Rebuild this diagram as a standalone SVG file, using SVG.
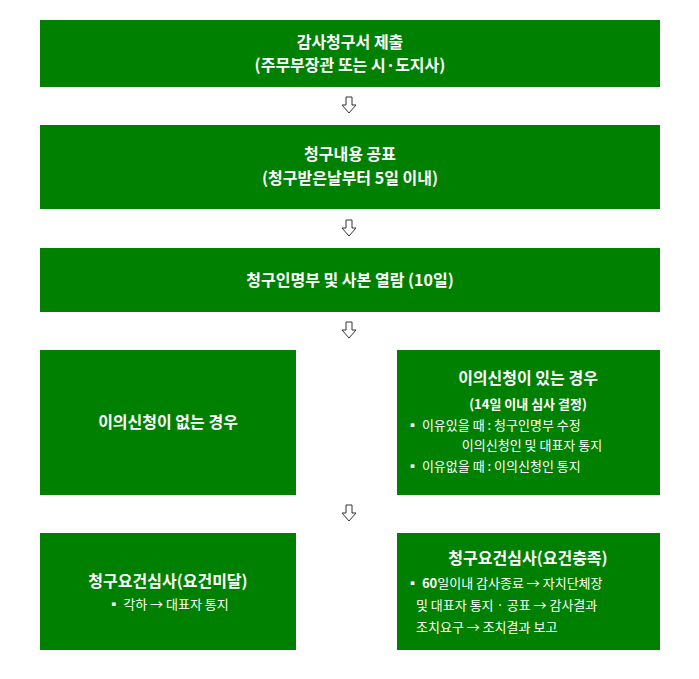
<svg xmlns="http://www.w3.org/2000/svg" width="699" height="679" viewBox="0 0 699 679">
<style>
.b{fill:#008000}
text{fill:#fff;font-family:"Noto Sans CJK KR","Noto Sans",sans-serif;text-anchor:middle}
.t{font-size:16px;font-weight:bold}
.s{font-size:13px}
.sb{font-size:13px;font-weight:bold}
.l{text-anchor:start}
.a{fill:#fff;stroke:#333;stroke-width:1}
</style>
<defs><path id="ar" class="a" d="M-3,0 H3 V8 H7 L0,16 L-7,8 H-3 Z"/></defs>
<rect width="699" height="679" fill="#fff"/>
<g id="n1"><rect class="b" x="40" y="20" width="620" height="67"/>
<text class="t" x="350" y="48">감사청구서 제출</text><text class="t" x="350" y="71">(주무부장관 또는 시·도지사)</text></g>
<g id="n2"><rect class="b" x="40" y="125" width="620" height="84"/>
<text class="t" x="350" y="160">청구내용 공표</text><text class="t" x="350" y="184">(청구받은날부터 5일 이내)</text></g>
<g id="n3"><rect class="b" x="40" y="248" width="620" height="64"/>
<text class="t" x="350" y="286">청구인명부 및 사본 열람 (10일)</text></g>
<g id="n4"><rect class="b" x="40" y="350" width="256" height="145"/>
<text class="t" x="168" y="428">이의신청이 없는 경우</text></g>
<g id="n5"><rect class="b" x="397" y="350" width="263" height="145"/>
<text class="t" x="528" y="384">이의신청이 있는 경우</text>
<text class="sb" x="528" y="409">(14일 이내 심사 결정)</text>
<text class="s l" x="406" y="430">▪ 이유있을 때 : 청구인명부 수정</text>
<text class="s" x="532" y="450">이의신청인 및 대표자 통지</text>
<text class="s l" x="406" y="471">▪ 이유없을 때 : 이의신청인 통지</text></g>
<g id="n6"><rect class="b" x="40" y="533" width="256" height="117"/>
<text class="t" x="168" y="587">청구요건심사(요건미달)</text>
<text class="s" x="168" y="609">▪ 각하 → 대표자 통지</text></g>
<g id="n7"><rect class="b" x="397" y="533" width="263" height="117"/>
<text class="t" x="528" y="564">청구요건심사(요건충족)</text>
<text class="s l" x="406" y="588">▪ <tspan font-weight="bold">60</tspan>일이내 감사종료 → 자치단체장</text>
<text class="s l" x="416" y="610">및 대표자 통지 · 공표 → 감사결과</text>
<text class="s l" x="416" y="632">조치요구 → 조치결과 보고</text></g>
<g id="connectors">
<use href="#ar" x="349" y="97"/><use href="#ar" x="349" y="220"/><use href="#ar" x="349" y="322"/><use href="#ar" x="349" y="505"/>
</g>
</svg>
